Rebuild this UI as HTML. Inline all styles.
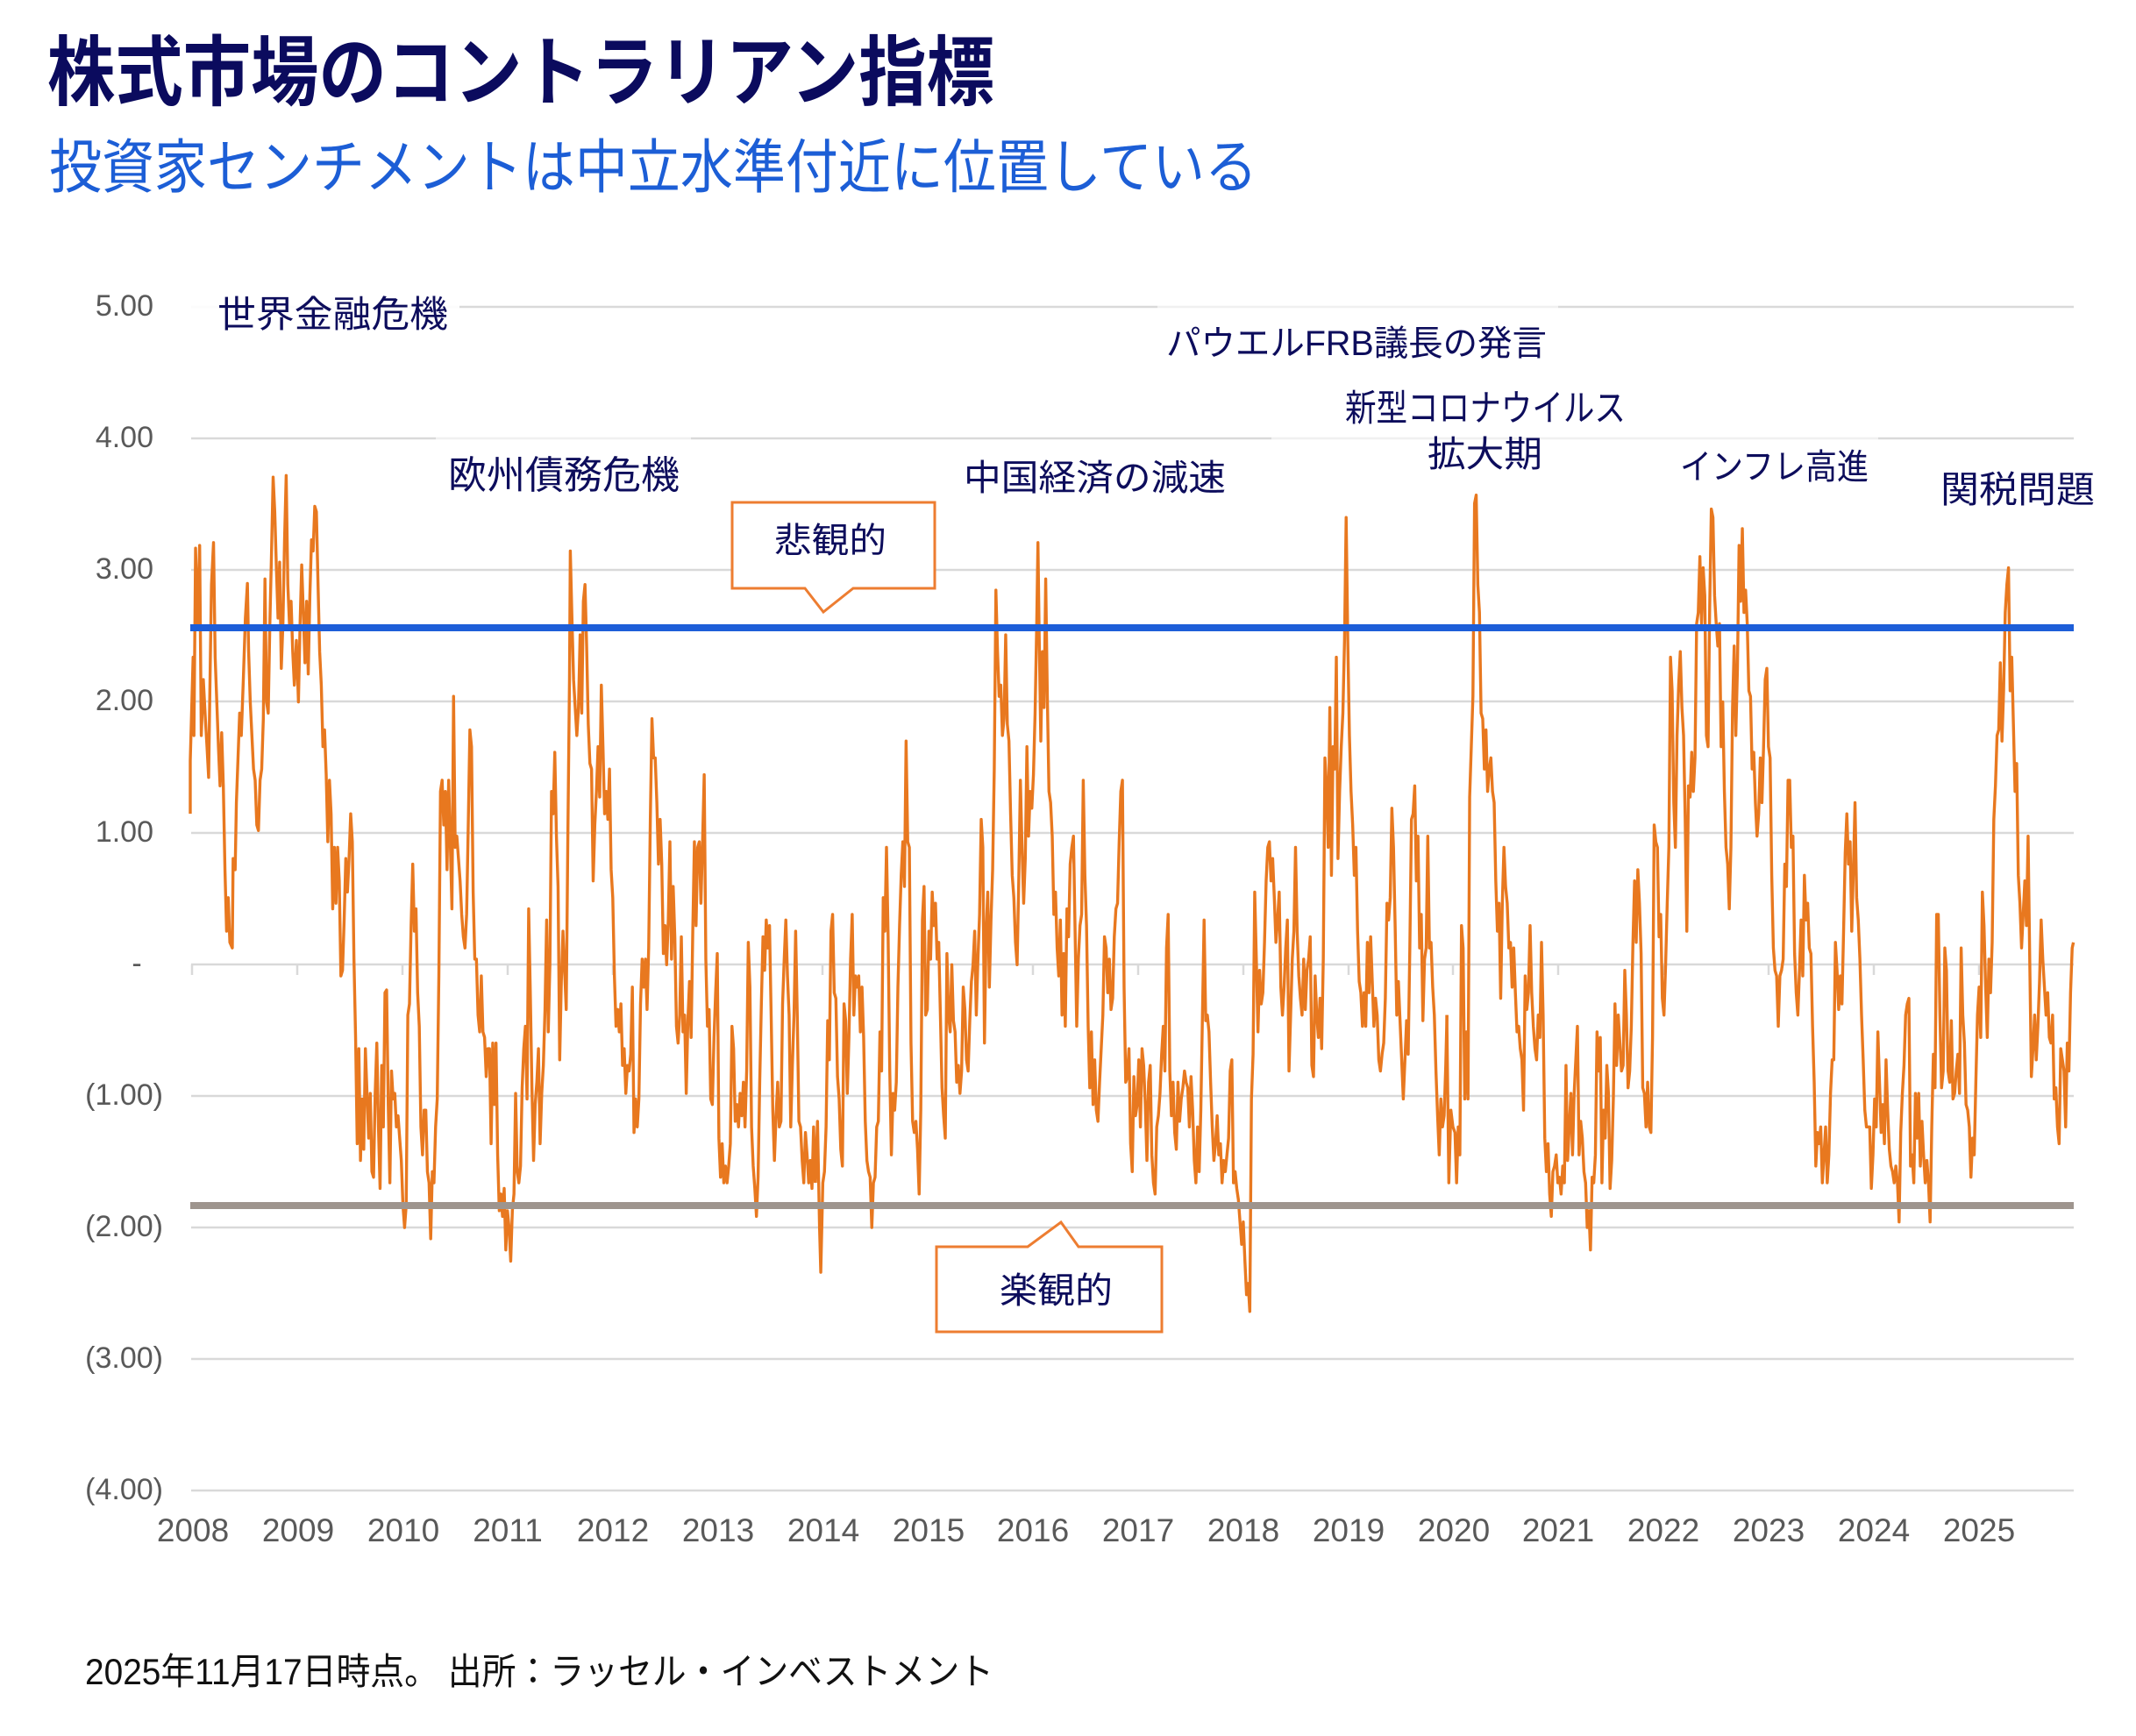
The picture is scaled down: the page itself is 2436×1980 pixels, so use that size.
<!DOCTYPE html>
<html><head><meta charset="utf-8">
<style>
html,body{margin:0;padding:0;background:#fff;}
svg{display:block;}
text{font-family:"Liberation Sans","Noto Sans CJK JP",sans-serif;}
.ann{fill:#0d0d5c;}
.yl{fill:#595959;font-size:34px;text-anchor:end;}
.xl{fill:#595959;font-size:37px;text-anchor:middle;}
</style></head>
<body>
<svg width="2436" height="1980" viewBox="0 0 2436 1980" xmlns="http://www.w3.org/2000/svg">
<rect width="2436" height="1980" fill="#fff"/>
<!-- Title -->
<text x="54" y="113" font-size="87" font-weight="700" fill="#0b0b5e" textLength="1080" lengthAdjust="spacingAndGlyphs">株式市場のコントラリアン指標</text>
<text x="56" y="214" font-size="67" fill="#1c5ed6" textLength="1378" lengthAdjust="spacingAndGlyphs">投資家センチメントは中立水準付近に位置している</text>

<!-- gridlines -->
<g stroke="#d9d9d9" stroke-width="2.5">
<line x1="218" y1="350" x2="2365" y2="350"/>
<line x1="218" y1="500" x2="2365" y2="500"/>
<line x1="218" y1="650" x2="2365" y2="650"/>
<line x1="218" y1="800" x2="2365" y2="800"/>
<line x1="218" y1="950" x2="2365" y2="950"/>
<line x1="218" y1="1100" x2="2365" y2="1100"/>
<line x1="218" y1="1250" x2="2365" y2="1250"/>
<line x1="218" y1="1400" x2="2365" y2="1400"/>
<line x1="218" y1="1550" x2="2365" y2="1550"/>
<line x1="218" y1="1700" x2="2365" y2="1700"/>
</g>
<!-- ticks -->
<g stroke="#d9d9d9" stroke-width="2.5">
<line x1="219" y1="1100" x2="219" y2="1112"/>
<line x1="339" y1="1100" x2="339" y2="1112"/>
<line x1="459" y1="1100" x2="459" y2="1112"/>
<line x1="579" y1="1100" x2="579" y2="1112"/>
<line x1="699" y1="1100" x2="699" y2="1112"/>
<line x1="818" y1="1100" x2="818" y2="1112"/>
<line x1="938" y1="1100" x2="938" y2="1112"/>
<line x1="1058" y1="1100" x2="1058" y2="1112"/>
<line x1="1178" y1="1100" x2="1178" y2="1112"/>
<line x1="1298" y1="1100" x2="1298" y2="1112"/>
<line x1="1418" y1="1100" x2="1418" y2="1112"/>
<line x1="1538" y1="1100" x2="1538" y2="1112"/>
<line x1="1657" y1="1100" x2="1657" y2="1112"/>
<line x1="1777" y1="1100" x2="1777" y2="1112"/>
<line x1="1897" y1="1100" x2="1897" y2="1112"/>
<line x1="2017" y1="1100" x2="2017" y2="1112"/>
<line x1="2137" y1="1100" x2="2137" y2="1112"/>
<line x1="2257" y1="1100" x2="2257" y2="1112"/>
</g>
<!-- label boxes lightening gridlines -->
<g fill="#fff">
<rect x="218" y="344" width="306" height="12" opacity="0.9"/>
<rect x="497" y="494" width="291" height="12" opacity="0.6"/>
<rect x="1320" y="344" width="457" height="12" opacity="0.6"/>
<rect x="1450" y="494" width="692" height="12" opacity="0.6"/>
</g>

<!-- Y labels -->
<text class="yl" x="175" y="360">5.00</text>
<text class="yl" x="175" y="510">4.00</text>
<text class="yl" x="175" y="660">3.00</text>
<text class="yl" x="175" y="810">2.00</text>
<text class="yl" x="175" y="960">1.00</text>
<text x="156" y="1110" font-size="34" fill="#595959" text-anchor="middle">-</text>
<text class="yl" x="186" y="1260">(1.00)</text>
<text class="yl" x="186" y="1410">(2.00)</text>
<text class="yl" x="186" y="1560">(3.00)</text>
<text class="yl" x="186" y="1710">(4.00)</text>

<!-- X labels -->
<g class="xl">
<text class="xl" x="220" y="1758">2008</text>
<text class="xl" x="340" y="1758">2009</text>
<text class="xl" x="460" y="1758">2010</text>
<text class="xl" x="579" y="1758">2011</text>
<text class="xl" x="699" y="1758">2012</text>
<text class="xl" x="819" y="1758">2013</text>
<text class="xl" x="939" y="1758">2014</text>
<text class="xl" x="1059" y="1758">2015</text>
<text class="xl" x="1178" y="1758">2016</text>
<text class="xl" x="1298" y="1758">2017</text>
<text class="xl" x="1418" y="1758">2018</text>
<text class="xl" x="1538" y="1758">2019</text>
<text class="xl" x="1658" y="1758">2020</text>
<text class="xl" x="1777" y="1758">2021</text>
<text class="xl" x="1897" y="1758">2022</text>
<text class="xl" x="2017" y="1758">2023</text>
<text class="xl" x="2137" y="1758">2024</text>
<text class="xl" x="2257" y="1758">2025</text>
</g>

<!-- series -->
<g fill="none" stroke="#e8781f" stroke-width="3.4" stroke-linejoin="round">
<polyline vector-effect="non-scaling-stroke" transform="translate(210,520) scale(0.46555,0.63776)" points="15,640 15,545 22,360 24,500 28,165 33,310 38,160 42,500 47,400 52,470 56,520 60,575 63,420 67,230 72,155 76,360 80,440 84,520 88,590 92,495 96,590 100,740 104,850 108,790 112,870 118,880 120,720 125,740 128,620 132,540 136,460 140,500 145,400 150,290 155,228 158,350 162,440 166,500 170,560 174,580 178,660 182,670 186,580 190,560 194,470 198,220 202,440 206,460 210,300 214,175 218,38 222,100 226,200 230,290 234,190 238,380 242,300 246,150 250,35 254,230 258,300 262,260 266,350 270,410 275,330 280,440 284,300 288,195 292,280 296,370 300,260 304,390 308,250 312,150 316,170 320,90 324,100 328,230 332,350 336,410 340,520 344,490 348,570 352,690 356,580 360,640 364,810 368,700 372,800 376,700 380,760 384,930 388,920 392,830 396,720 400,780 404,720 408,640 412,690 416,900 420,1040 424,1230 428,1060 432,1260 436,1150 440,1240 444,1060 448,1140 452,1220 456,1140 460,1280 464,1290 468,1140 472,1050 476,1200 480,1310 484,1090 488,1200 492,960 496,955 500,1160 504,1300 508,1100 512,1150 516,1140 520,1200 524,1180 528,1220 532,1260 536,1340 540,1380 544,1340 548,1000 552,980 556,840 560,730 564,850 568,810 572,960 576,1020 580,1200 584,1250 588,1170 592,1170 596,1280 600,1300 604,1400 608,1280 612,1300 616,1200 620,1150 624,930 628,600 632,580 636,660 640,600 644,740 648,580 652,690 656,810 660,430 664,700 668,680 672,720 676,760 680,820 684,860 688,880 692,820 696,660 700,490 704,520 708,780 712,900 716,900 720,1000 724,1030 728,930 732,1030 736,1040 740,1110 744,1060 748,1060 752,1230 756,1050 760,1160 764,1050 768,1250 772,1350 776,1320 780,1360 784,1310 788,1420 792,1350 796,1380 800,1440 804,1350 808,1320 812,1140 816,1280 820,1300 824,1270 828,1130 832,1060 836,1020 840,1150 844,810 848,960 852,1130 856,1260 860,1160 864,1120 868,1060 872,1230 876,1140 880,1090 884,990 888,830 892,1030 896,910 900,600 904,640 908,530 912,680 916,770 920,1080 924,940 928,850 932,920 936,990 940,680 944,400 946,170 950,290 954,400 958,450 962,500 966,450 970,320 974,460 978,260 982,230 986,340 990,480 994,550 998,560 1002,760 1006,660 1010,600 1014,520 1018,610 1022,410 1026,520 1030,640 1034,600 1038,650 1042,560 1046,740 1050,790 1054,930 1058,1020 1062,990 1066,1030 1070,980 1074,1090 1078,1060 1082,1140 1086,1090 1090,1100 1094,1070 1098,950 1102,1210 1106,1150 1110,1200 1114,1150 1118,980 1122,900 1126,950 1130,900 1134,990 1138,880 1142,650 1146,470 1150,540 1154,540 1158,620 1162,730 1166,650 1170,730 1174,890 1178,840 1182,910 1186,830 1190,690 1194,900 1198,770 1202,860 1206,1020 1210,1050 1214,1000 1218,860 1222,1030 1226,1000 1230,1140 1234,1010 1238,940 1242,1040 1246,850 1250,690 1254,840 1258,700 1262,690 1266,800 1270,690 1274,570 1278,900 1282,1020 1286,990 1290,1150 1294,1160 1298,1040 1302,960 1306,890 1310,1220 1314,1290 1318,1230 1322,1300 1326,1270 1330,1300 1334,1270 1338,1230 1342,1020 1346,1060 1350,1190 1354,1160 1358,1200 1362,1140 1366,1180 1370,1120 1374,1200 1378,1100 1382,870 1386,950 1390,1200 1394,1270 1398,1310 1402,1360 1406,1290 1410,1120 1414,980 1418,860 1422,920 1426,830 1430,880 1434,840 1438,1000 1442,1170 1446,1260 1450,1180 1454,1120 1458,1200 1462,1190 1466,980 1470,900 1474,830 1478,930 1482,1000 1486,1200 1490,1090 1494,1000 1498,850 1502,1000 1506,1190 1510,1200 1514,1260 1518,1300 1522,1210 1526,1250 1530,1300 1534,1260 1538,1310 1542,1200 1546,1300"/>
<polyline vector-effect="non-scaling-stroke" transform="translate(930,520) scale(0.46555,0.63776)" points="0,1300 5,1190 10,1380 13,1460 18,1300 22,1280 26,1200 30,1010 34,1080 38,850 42,820 46,960 50,970 54,1110 58,1150 62,1240 66,1270 70,980 74,1010 78,1140 82,1040 86,900 90,820 94,1000 98,930 102,950 106,930 110,1030 114,950 118,1040 122,1190 126,1260 130,1280 134,1290 138,1380 142,1300 146,1290 150,1200 154,1190 158,1030 162,1100 166,790 170,850 174,700 178,860 182,1100 186,1250 190,1140 194,1170 198,1120 202,950 206,840 210,750 214,690 218,770 222,510 226,690 230,700 234,1050 238,1190 242,1210 246,1190 250,1240 254,1320 258,1170 262,830 266,770 270,1000 274,990 278,850 282,900 286,780 290,840 294,800 298,900 302,870 306,1000 310,1130 314,1180 318,1220 322,890 326,1000 330,1030 334,910 338,1010 342,1030 346,1120 350,1090 354,1140 358,1100 362,950 366,990 370,1080 374,1100 378,1010 382,940 386,910 390,850 394,1000 398,900 402,820 406,650 410,700 414,1050 418,850 422,780 426,950 430,830 434,740 438,560 442,240 446,350 450,430 454,410 458,500 462,470 466,320 470,480 474,510 478,640 482,750 486,790 490,870 494,910 498,760 502,580 506,700 510,800 514,720 518,520 522,680 526,600 530,630 534,570 538,460 542,300 545,155 548,320 552,510 556,350 560,450 564,220 568,430 572,600 576,620 580,680 584,820 588,780 592,880 596,930 600,830 604,1000 608,890 612,1020 616,810 620,860 624,730 628,700 632,680 636,850 640,1020 644,900 648,840 652,820 656,580 660,750 664,840 668,1020 672,1130 676,1030 680,1160 684,1080 688,1170 692,1190 696,1120 700,1060 704,1000 708,860 712,880 716,960 720,900 724,990 728,970 732,860 736,810 740,800 744,690 748,600 752,580 756,950 760,1120 764,1110 768,1060 772,1230 776,1280 780,1110 784,1180 788,1160 792,1080 796,1200 800,1060 804,1090 808,1160 812,1260 816,1120 820,1090 824,1250 828,1300 832,1320 836,1200 840,1180 844,1140 848,1070 852,1020 856,1100 860,880 864,820 868,1100 872,1180 876,1120 880,1210 884,1240 888,1120 892,1190 896,1150 900,1130 904,1100 908,1120 912,1130 916,1200 920,1110 924,1170 928,1260 932,1300 936,1200 940,1280 944,1170 948,1000 952,830 956,1010 960,1000 964,1030 968,1120 972,1200 976,1260 980,1230 984,1180 988,1250 992,1230 996,1300 1000,1260 1004,1280 1008,1250 1012,1220 1016,1100 1020,1080 1024,1300 1028,1280 1032,1310 1036,1330 1040,1370 1044,1410 1048,1370 1052,1440 1056,1500 1060,1480 1064,1530 1068,1150 1072,1070 1076,780 1080,900 1084,1030 1088,920 1092,980 1096,960 1100,870 1104,760 1108,700 1112,690 1116,760 1120,720 1124,790 1128,870 1132,830 1136,780 1140,950 1144,1000 1148,950 1152,880 1156,830 1160,1100 1164,1000 1168,900 1172,850 1176,700 1180,850 1184,930 1188,970 1192,1000 1196,900 1200,990 1204,920 1208,900 1212,860 1216,1090 1220,1110 1224,930 1228,1000 1232,1040 1236,970 1240,1060 1244,900 1248,540 1252,590 1256,700 1260,450 1264,750 1268,520 1272,560 1276,360 1280,720 1284,600 1288,520 1292,460 1296,330 1300,110 1304,330 1308,500 1312,600 1316,660 1320,750 1324,700 1328,850 1332,940 1336,960 1340,1020 1344,960 1348,1020 1352,870 1356,960 1360,860 1364,940 1368,1020 1372,970 1376,1000 1380,1080 1384,1100 1388,1070 1392,1050 1396,970 1400,800 1404,830 1408,790 1412,630 1416,700 1420,840 1424,1000 1428,940 1432,1010 1436,1080 1440,1150 1444,1080 1448,1010 1452,1070 1456,880 1460,650 1464,640 1468,590 1472,760 1476,680 1480,880 1484,820 1488,1010 1492,900 1496,880 1500,680 1504,880 1508,870 1512,950 1516,1000 1520,1100 1524,1180 1528,1250 1532,1150 1536,1200 1540,1180 1544,1090 1547,1000"/>
<polyline vector-effect="non-scaling-stroke" transform="translate(1650,520) scale(0.46555,0.63776)" points="0,1000 5,1300 10,1170 15,1200 20,1210 24,1300 28,1200 32,1250 36,840 40,880 44,1150 48,1030 52,1150 56,610 60,520 64,430 68,85 72,70 76,230 80,280 84,460 88,470 92,560 96,490 100,600 104,560 108,540 112,600 116,620 120,760 124,850 128,800 132,970 136,800 140,700 144,770 148,800 152,880 156,870 160,950 164,880 168,960 172,1030 176,1020 180,1060 184,1080 188,1170 192,930 196,990 200,960 204,840 208,960 212,1020 216,1060 220,1080 224,1000 228,1040 232,870 236,1000 240,1220 244,1280 248,1230 252,1320 256,1360 260,1280 264,1270 268,1250 272,1300 276,1290 280,1320 284,1270 288,1300 292,1090 296,1260 300,1200 304,1140 308,1250 312,1140 316,1080 320,1020 324,1250 328,1190 332,1220 336,1280 340,1300 344,1380 348,1350 352,1420 356,1290 360,1300 364,1250 368,1030 372,1100 376,1040 380,1300 384,1170 388,1220 392,1090 396,1140 400,1310 404,1260 408,1150 412,980 416,1090 420,1000 424,1050 428,1100 432,1090 436,920 440,1000 444,1130 448,1100 452,1020 456,870 460,760 464,870 468,740 472,800 476,890 480,1130 484,1140 488,1200 492,1120 496,1200 500,1210 504,1040 508,660 512,690 516,700 520,860 524,820 528,970 532,1000 536,910 540,800 544,700 548,360 552,420 556,620 560,700 564,500 568,410 572,350 576,450 580,500 584,650 588,850 592,590 596,610 600,530 604,600 608,540 612,300 616,280 620,180 624,300 628,200 632,250 636,500 640,520 644,270 648,95 652,110 656,250 660,300 664,340 668,300 672,520 676,440 680,600 684,700 688,730 692,810 696,700 700,450 704,340 708,500 712,380 716,160 720,260 724,130 728,280 732,240 736,300 740,420 744,430 748,560 752,530 756,620 760,680 764,640 768,540 772,620 776,520 780,400 784,380 788,520 792,540 796,750 800,880 804,920 808,930 812,1020 816,930 820,920 824,900 828,730 832,770 836,580 840,580 844,700 848,680 852,890 856,960 860,1000 864,920 868,830 872,930 876,750 880,830 884,800 888,880 892,890 896,1020 900,1120 904,1270 908,1210 912,1230 916,1200 920,1300 924,1250 928,1200 932,1300 936,1250 940,1140 944,1080 948,1080 952,870 956,920 960,990 964,930 968,980 972,850 976,710 980,640 984,730 988,690 992,850 996,740 1000,620 1004,790 1008,830 1012,900 1016,1000 1020,1080 1024,1170 1028,1200 1032,1200 1036,1200 1040,1310 1044,1250 1048,1150 1052,1200 1056,1030 1060,1120 1064,1210 1068,1160 1072,1230 1076,1080 1080,1170 1084,1240 1088,1270 1092,1280 1096,1300 1100,1270 1104,1300 1108,1370 1112,1210 1116,1140 1120,1090 1124,1000 1128,980 1132,970 1136,1270 1140,1250 1144,1300 1148,1140 1152,1220 1156,1140 1160,1270 1164,1190 1168,1250 1172,1300 1176,1260 1180,1300 1184,1370 1188,1200 1192,1070 1196,1130 1200,820 1204,820 1208,1000 1212,1130 1216,1100 1220,880 1224,920 1228,1100 1232,1120 1236,1010 1240,1150 1244,1140 1248,1100 1252,1070 1256,1140 1260,880 1264,1000 1268,1050 1272,1160 1276,1170 1280,1200 1284,1290 1288,1220 1292,1250 1296,1120 1300,1000 1304,950 1308,1040 1312,780 1316,840 1320,950 1324,1040 1328,900 1332,960 1336,870 1340,650 1344,590 1348,500 1352,490 1356,370 1360,510 1364,420 1368,280 1372,230 1376,200 1380,420 1384,360 1388,480 1392,600 1396,550 1400,750 1404,800 1408,880 1412,820 1416,760 1420,840 1424,680 1428,900 1432,1110 1436,1060 1440,1000 1444,1080 1448,1020 1452,940 1456,830 1460,900 1464,950 1468,1000 1472,960 1476,1040 1480,1050 1484,1000 1488,1150 1492,1130 1496,1200 1500,1230 1504,1060 1508,1080 1512,1100 1516,1200 1520,1050 1524,1100 1528,960 1532,880 1535,870"/>
</g>

<!-- threshold lines -->
<line x1="217" y1="716" x2="2365" y2="716" stroke="#1d5ed8" stroke-width="8"/>
<line x1="217" y1="1375" x2="2365" y2="1375" stroke="#9e958e" stroke-width="8"/>

<!-- callout boxes -->
<path d="M835,573 L1066,573 L1066,671 L973,671 L939,698 L918,671 L835,671 Z" fill="#fff" stroke="#ed7d31" stroke-width="3" stroke-linejoin="miter"/>
<text class="ann" x="883" y="630" font-size="40" textLength="128" lengthAdjust="spacingAndGlyphs">悲観的</text>
<path d="M1068,1422 L1172,1422 L1210,1394 L1230,1422 L1325,1422 L1325,1519 L1068,1519 Z" fill="#fff" stroke="#ed7d31" stroke-width="3" stroke-linejoin="miter"/>
<text class="ann" x="1140" y="1486" font-size="41" textLength="129" lengthAdjust="spacingAndGlyphs">楽観的</text>

<!-- annotations -->
<text class="ann" x="248" y="373" font-size="42" textLength="263" lengthAdjust="spacingAndGlyphs">世界金融危機</text>
<text class="ann" x="511" y="557" font-size="44" textLength="264" lengthAdjust="spacingAndGlyphs">欧州債務危機</text>
<text class="ann" x="1099" y="559" font-size="41" textLength="299" lengthAdjust="spacingAndGlyphs">中国経済の減速</text>
<text class="ann" x="1330" y="405" font-size="40" textLength="434" lengthAdjust="spacingAndGlyphs">パウエルFRB議長の発言</text>
<text class="ann" x="1534" y="480" font-size="42" textLength="320" lengthAdjust="spacingAndGlyphs">新型コロナウイルス</text>
<text class="ann" x="1628" y="532" font-size="41" textLength="131" lengthAdjust="spacingAndGlyphs">拡大期</text>
<text class="ann" x="1916" y="546" font-size="40" textLength="215" lengthAdjust="spacingAndGlyphs">インフレ高進</text>
<text class="ann" x="2213" y="573" font-size="42" textLength="176" lengthAdjust="spacingAndGlyphs">関税問題</text>

<!-- footer -->
<text x="97" y="1921" font-size="42" fill="#111" textLength="1036" lengthAdjust="spacingAndGlyphs">2025年11月17日時点。 出所：ラッセル・インベストメント</text>
</svg>
</body></html>
